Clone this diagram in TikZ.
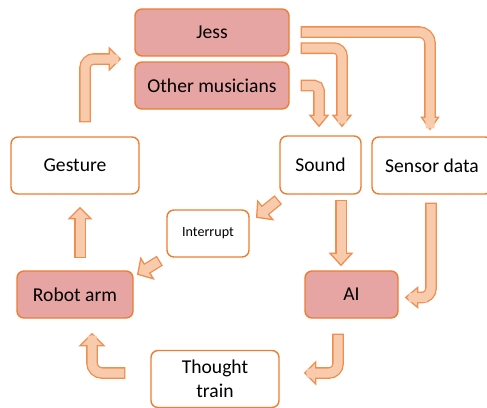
\documentclass[tikz,border=0pt]{standalone}
\usepackage{fontspec}
\setmainfont{Carlito}
\usetikzlibrary{calc}

\definecolor{boxline}{HTML}{ED7D31}
\definecolor{boxpink}{HTML}{E6A4A2}
\definecolor{arrfill}{HTML}{F8CBAD}
\definecolor{arrline}{HTML}{EF8E4E}

\tikzset{
  box/.style={draw=boxline, line width=1.4pt, rounded corners=7pt, align=center,
    inner sep=0pt, font=\fontsize{19.6}{24}\selectfont},
  pinkbox/.style={box, fill=boxpink},
  whitebox/.style={box, fill=white},
}

% Block arrow: #1 corner style, #2 shaft path ending at the head base,
% #3 head base coordinate, #4 tip coordinate, #5 half width of the head
\newcommand\blockarrow[5]{%
  \draw[arrline, line width=11.6pt, #1] #2;
  \filldraw[fill=arrfill, draw=arrline, line width=1.3pt, line join=miter]
    (#4) -- ($(#3)!#5!90:(#4)$) -- ($(#3)!#5!-90:(#4)$) -- cycle;
  \draw[arrfill, line width=9pt, #1, shorten <=1.3pt] #2 -- ($(#3)!2pt!(#4)$);
}

\begin{document}
\begin{tikzpicture}[x=1pt, y=-1pt]
\useasboundingbox (0,0) rectangle (487,407);

% boxes
\node[pinkbox, minimum width=154pt, minimum height=47pt] (Jess) at (212,32.5) {Jess};
\node[pinkbox, minimum width=154pt, minimum height=47pt] (Other) at (212,85.5) {Other musicians};
\node[whitebox, minimum width=128pt, minimum height=57pt] (Gesture) at (75,165.5) {Gesture};
\node[whitebox, minimum width=81pt, minimum height=58pt] (Sound) at (320.5,165) {Sound};
\node[whitebox, minimum width=120pt, minimum height=57pt] (Sensor) at (432,165.5) {Sensor data};
\node[whitebox, minimum width=82pt, minimum height=47pt, font=\fontsize{14.1}{17}\selectfont] (Interrupt) at (208,233.5) {Interrupt};
\node[pinkbox, minimum width=116pt, minimum height=47pt] (Robot) at (75,294.5) {Robot arm};
\node[pinkbox, minimum width=93pt, minimum height=47pt] (AI) at (351.5,294.5) {AI};
\node[whitebox, minimum width=128pt, minimum height=57pt] (Thought) at (215,379) {Thought\\train};

% anchor points of the connectors
\coordinate (aT) at ($(Jess.south west)!.5!(Other.north west)+(-14,0)$);
\coordinate (aB) at ($(aT)+(-11,0)$);
\coordinate (a0) at ($(Gesture.north)+(10,-14)$);

\coordinate (bT) at ($(Sensor.north)+(-2,-7)$);
\coordinate (bB) at ($(bT)+(0,-12)$);
\coordinate (b0) at ($(Jess.east)+(11,-0.5)$);

\coordinate (cT) at ($(Sound.north)+(21.5,-9)$);
\coordinate (cB) at ($(cT)+(0,-11)$);
\coordinate (c0) at ($(Jess.south east)+(11,-8.5)$);

\coordinate (dT) at ($(Sound.north)+(-1.5,-9)$);
\coordinate (dB) at ($(dT)+(0,-11)$);
\coordinate (d0) at ($(Other.east)+(11,0)$);

\coordinate (e0) at ($(Sound.south west)+(-1,5)$);
\coordinate (eT) at ($(Interrupt.north east)+(7,8)$);
\coordinate (eB) at ($(eT)!11pt!(e0)$);

\coordinate (f0) at ($(Sound.south)+(20.5,5)$);
\coordinate (fT) at ($(f0 |- AI.north)+(0,-5)$);
\coordinate (fB) at ($(fT)+(0,-12)$);

\coordinate (g0) at ($(Sensor.south)+(-1,8)$);
\coordinate (gT) at ($(AI.east)+(7,3)$);
\coordinate (gB) at ($(gT)+(12,0)$);

\coordinate (h0) at ($(Interrupt.south west)+(-6.5,3)$);
\coordinate (hT) at ($(Robot.north east)+(4,4)$);
\coordinate (hB) at ($(hT)!11pt!(h0)$);

\coordinate (i0) at ($(Robot.north)+(5,-12)$);
\coordinate (iT) at ($(i0 |- Gesture.south)+(0,13)$);
\coordinate (iB) at ($(iT)+(0,11)$);

\coordinate (j0) at ($(AI.south)+(-13.5,15)$);
\coordinate (jT) at ($(Thought.east)+(25,-6)$);
\coordinate (jB) at ($(jT)+(11,0)$);

\coordinate (k0) at ($(Thought.west)+(-25,-6)$);
\coordinate (kT) at ($(Robot.south)+(17,15)$);
\coordinate (kB) at ($(kT)+(0,12)$);

% connectors
\blockarrow{rounded corners=9pt}{(a0) |- (aB)}{aB}{aT}{11pt}
\blockarrow{rounded corners=11pt}{(b0) -| (bB)}{bB}{bT}{8.5pt}
\blockarrow{rounded corners=8pt}{(c0) -| (cB)}{cB}{cT}{9pt}
\blockarrow{rounded corners=5pt}{(d0) -| (dB)}{dB}{dT}{9pt}
\blockarrow{sharp corners}{(e0) -- (eB)}{eB}{eT}{12pt}
\blockarrow{sharp corners}{(f0) -- (fB)}{fB}{fT}{11pt}
\blockarrow{rounded corners=9pt}{(g0) |- (gB)}{gB}{gT}{10pt}
\blockarrow{sharp corners}{(h0) -- (hB)}{hB}{hT}{12pt}
\blockarrow{sharp corners}{(i0) -- (iB)}{iB}{iT}{11pt}
\blockarrow{rounded corners=9pt}{(j0) |- (jB)}{jB}{jT}{11pt}
\blockarrow{rounded corners=10pt}{(k0) -| (kB)}{kB}{kT}{12pt}
\end{tikzpicture}
\end{document}
